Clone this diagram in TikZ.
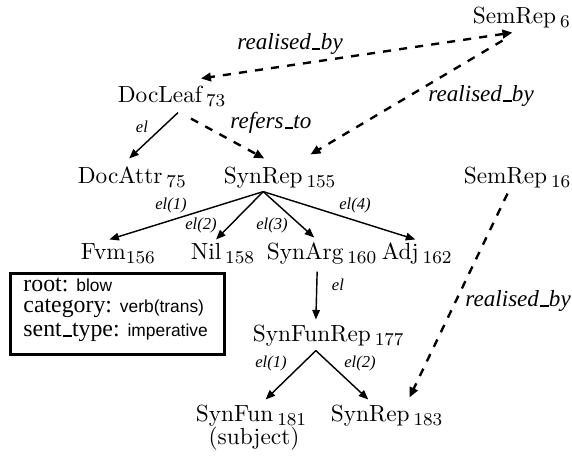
\documentclass[tikz,border=0pt]{standalone}
\usepackage{fontspec}
\newfontfamily\tms{Liberation Serif}[ItalicFont={Liberation Serif Italic}]
\newfontfamily\tmsit{Liberation Serif Italic}
\newfontfamily\hlv{Liberation Sans}
\usetikzlibrary{arrows.meta,calc}
\newcommand\usc{\kern.06em\vbox{\hrule width .35em height .07em}\kern.02em}
\newcommand\subn[1]{\raisebox{-1.5pt}{\fontsize{7.6}{8}\selectfont #1}}
\begin{document}
\begin{tikzpicture}[x=0.42pt,y=-0.42pt,
  wd/.style={inner sep=1pt, text height=7pt, text depth=2pt, anchor=base west, font=\fontsize{9.8}{11}\selectfont},
  rel/.style={font=\tmsit\fontsize{9.7}{11}\selectfont, inner sep=0pt, anchor=base west},
  elab/.style={font=\tmsit\fontsize{7}{8}\selectfont, inner sep=0pt},
  feat/.style={font=\tms\fontsize{10}{12}\selectfont, inner sep=0pt, anchor=base west},
  solidarr/.style={line width=0.6pt, -{Triangle[length=4pt,width=3.2pt]}},
  dasharr/.style={line width=1pt, dash pattern=on 3.4pt off 3.4pt, -{Triangle[length=4.2pt,width=3.6pt]}},
]
\useasboundingbox (0,0) rectangle (572,456);
\newcommand\vf{\hlv\fontsize{7.3}{9}\selectfont}

% nodes
\node[wd] (sr6)   at (470,24)  {SemRep\rlap{\,\subn{6}}};
\node[wd] (dl)    at (115,103) {DocLeaf\rlap{\,\subn{73}}};
\node[wd] (da)    at (75,184)  {DocAttr\rlap{\,\subn{75}}};
\node[wd] (sr155) at (221,184) {SynRep\rlap{\,\subn{155}}};
\node[wd] (sr16)  at (461,184) {SemRep\rlap{\,\subn{16}}};
\node[wd] (fvm)   at (78,260)  {Fvm\rlap{\subn{156}}};
\node[wd] (nil)   at (188,260) {Nil\rlap{\,\subn{158}}};
\node[wd] (sa)    at (264,260) {SynArg\rlap{\,\subn{160}}};
\node[wd] (adj)   at (379,260) {Adj\rlap{\,\subn{162}}};
\node[wd] (sfr)   at (250,342) {SynFunRep\rlap{\,\subn{177}}};
\node[wd] (sf)    at (193,422) {SynFun\rlap{\,\subn{181}}};
\node[wd] (sr183) at (328,422) {SynRep\rlap{\,\subn{183}}};
\node[inner sep=0pt, anchor=base, font=\fontsize{9.8}{11}\selectfont] (subj) at (254,445) {(subject)};

% feature box
\node[draw, line width=1.1pt, minimum width=89.9pt, minimum height=34pt, anchor=north west, inner sep=0pt] (fs) at (9,272) {};
\node[feat] (f1) at (23,292) {root: {\vf blow}};
\node[feat] (f2) at (23,313) {category: {\vf verb(trans)}};
\node[feat] (f3) at (23,337) {sent\usc type: {\vf imperative}};

% dashed relations
\draw[dasharr, {Triangle[length=4.2pt,width=3.6pt]}-{Triangle[length=4.2pt,width=3.6pt]}]
  ($(sr6.south)+(-2,1)$) -- ($(dl.north east)+(-4,-5)$);
\draw[dasharr] ($(sr6.south)+(-12,9)$) -- ($(sr155.north east)+(5,-10)$);
\draw[dasharr] ($(dl.south)+(31,8)$) -- ($(sr155.north)+(1,-6)$);
\draw[dasharr] ($(sr16.south)+(2,2)$) -- ($(sr183.north east)+(-3,-5)$);

% solid element edges
\draw[solidarr] ($(dl.south)+(18,2)$) -- ($(da.north)+(9,-6)$);
\draw[solidarr] (sr155.south) -- ($(fvm.north)+(6,-1)$);
\draw[solidarr] (sr155.south) -- ($(nil.north)+(10,-1)$);
\draw[solidarr] (sr155.south) -- ($(sa.north)+(9,-3)$);
\draw[solidarr] (sr155.south) -- ($(adj.north)+(15,-1)$);
\draw[solidarr] ($(sa.south)+(12,4)$) -- ($(sfr.north)+(4,-3)$);
\draw[solidarr] ($(sfr.south)+(4,1)$) -- ($(sf.north)+(31,-3)$);
\draw[solidarr] ($(sfr.south)+(4,1)$) -- ($(sr183.north)+(-2,-3)$);

% labels
\node[rel] (rb1) at (237,50)  {realised\usc by};
\node[rel] (rb2) at (428,102) {realised\usc by};
\node[rel] (rt)  at (230,129) {refers\usc to};
\node[rel] (rb3) at (465,307) {realised\usc by};
\node[elab] (l0) at (142,127) {el};
\node[elab] (l1) at (171,205) {el(1)};
\node[elab] (l2) at (201,225) {el(2)};
\node[elab] (l3) at (272,225) {el(3)};
\node[elab] (l4) at (355,205) {el(4)};
\node[elab] (l5) at (338,285) {el};
\node[elab] (l6) at (271,363) {el(1)};
\node[elab] (l7) at (360,363) {el(2)};
\end{tikzpicture}
\end{document}
